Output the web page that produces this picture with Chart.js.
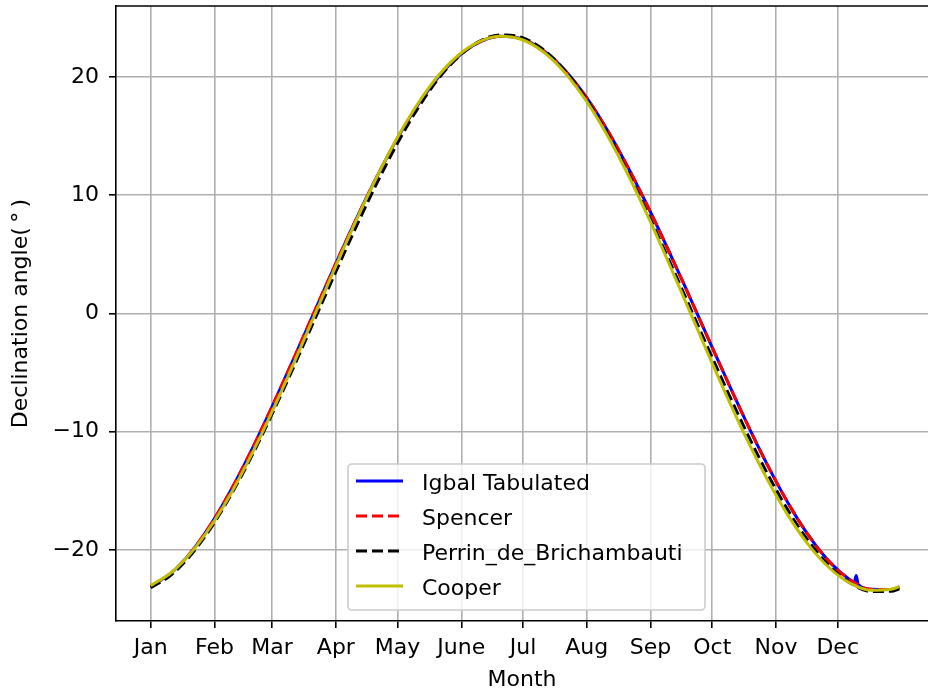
<!DOCTYPE html>
<html>
<head>
<meta charset="utf-8">
<script src="https://cdn.jsdelivr.net/npm/chart.js@4.4.1/dist/chart.umd.min.js"></script>
<style>
  html, body { margin: 0; padding: 0; background: #fff; }
  canvas { display: block; }
</style>
</head>
<body>
<canvas id="graphic" width="928" height="693"></canvas>
<script>
// day of year for the sampled declination values
const days = [1, 11, 21, 31, 41, 51, 61, 71, 81, 91, 101, 111, 121, 131, 141, 151, 161, 171, 181,
  191, 201, 211, 221, 231, 241, 251, 261, 271, 281, 291, 301, 311, 321, 331, 341, 351, 361, 365];

// month ticks on the x axis
const monthDays = [1, 32, 60, 91, 121, 152, 182, 213, 244, 274, 305, 335];
const monthLabels = ["Jan", "Feb", "Mar", "Apr", "May", "June", "Jul", "Aug", "Sep", "Oct", "Nov", "Dec"];

const yTicks = [-20, -10, 0, 10, 20];

// tabulated values have a few extra days around the glitch in december
const iqbalDays = [1, 11, 21, 31, 41, 51, 61, 71, 81, 91, 101, 111, 121, 131, 141, 151, 161, 171, 181,
  191, 201, 211, 221, 231, 241, 251, 261, 271, 281, 291, 301, 311, 321, 331, 341, 343, 344, 345, 351, 361, 365];
const iqbal = [-23.06, -21.93, -20.09, -17.61, -14.61, -11.20, -7.50, -3.62, 0.33, 4.24, 8.03, 11.58, 14.83,
  17.67, 20.02, 21.81, 22.96, 23.44, 23.24, 22.35, 20.82, 18.71, 16.09, 13.03, 9.64, 6.00, 2.19, -1.70,
  -5.57, -9.33, -12.86, -16.06, -18.81, -21.00, -22.52, -22.73, -22.15, -22.92, -23.32, -23.34, -23.13];

const spencer = [-23.06, -21.93, -20.09, -17.61, -14.61, -11.20, -7.50, -3.62, 0.33, 4.24, 8.03, 11.58, 14.83,
  17.67, 20.02, 21.81, 22.96, 23.44, 23.24, 22.35, 20.82, 18.71, 16.09, 13.03, 9.64, 6.00, 2.19, -1.70,
  -5.57, -9.33, -12.86, -16.06, -18.81, -21.00, -22.52, -23.32, -23.34, -23.13];

const perrin = [-23.19, -22.09, -20.31, -17.93, -15.04, -11.74, -8.13, -4.32, -0.39, 3.54, 7.39, 11.04, 14.41,
  17.39, 19.88, 21.78, 23.03, 23.56, 23.36, 22.43, 20.81, 18.58, 15.81, 12.60, 9.06, 5.29, 1.38, -2.56,
  -6.44, -10.15, -13.60, -16.69, -19.30, -21.37, -22.78, -23.50, -23.49, -23.27];

const cooper = [-23.01, -21.90, -20.14, -17.78, -14.90, -11.58, -7.92, -4.02, 0.00, 4.02, 7.92, 11.58, 14.90,
  17.78, 20.14, 21.90, 23.01, 23.45, 23.19, 22.24, 20.64, 18.42, 15.67, 12.45, 8.86, 5.01, 1.01, -3.02,
  -6.96, -10.69, -14.11, -17.11, -19.60, -21.52, -22.80, -23.40, -23.31, -23.09];

function points(xs, ys) {
  return xs.map((x, i) => ({ x: x, y: ys[i] }));
}

const FONT = { family: "'DejaVu Sans'", size: 22 };

// top frame line (chart.js only draws the axis borders)
const frame = {
  id: "frame",
  afterDatasetsDraw(chart) {
    const { ctx, chartArea } = chart;
    ctx.save();
    ctx.strokeStyle = "#000";
    ctx.lineWidth = 1.6;
    ctx.beginPath();
    ctx.moveTo(chartArea.left, chartArea.top);
    ctx.lineTo(chartArea.right, chartArea.top);
    ctx.stroke();
    ctx.restore();
  }
};

// legend box inside the plot, lower middle
const boxLegend = {
  id: "boxLegend",
  afterDraw(chart) {
    const ctx = chart.ctx;
    const bx = 348, by = 464, bw = 357, bh = 146;
    ctx.save();
    ctx.fillStyle = "rgba(255,255,255,0.8)";
    ctx.strokeStyle = "#cccccc";
    ctx.lineWidth = 1.6;
    ctx.beginPath();
    ctx.roundRect(bx, by, bw, bh, 4);
    ctx.fill();
    ctx.stroke();
    ctx.font = "22px 'DejaVu Sans'";
    ctx.textBaseline = "alphabetic";
    chart.data.datasets.forEach((ds, i) => {
      const ry = by + 17 + i * 35;
      ctx.strokeStyle = ds.borderColor;
      ctx.lineWidth = ds.borderWidth;
      ctx.setLineDash(ds.borderDash || []);
      ctx.beginPath();
      ctx.moveTo(bx + 8, ry);
      ctx.lineTo(bx + 55, ry);
      ctx.stroke();
      ctx.setLineDash([]);
      ctx.fillStyle = "#000";
      ctx.fillText(ds.label, bx + 74, ry + 9);
    });
    ctx.restore();
  }
};

const lineStyle = {
  fill: false,
  pointRadius: 0,
  borderWidth: 3,
  cubicInterpolationMode: "monotone"
};

var ctx = document.getElementById("graphic").getContext("2d");
var chart = new Chart(ctx, {
  type: "line",
  data: {
    datasets: [
      Object.assign({ label: "Igbal Tabulated", data: points(iqbalDays, iqbal), borderColor: "#0000ff", order: 3 }, lineStyle),
      Object.assign({ label: "Spencer", data: points(days, spencer), borderColor: "#ff0000", borderDash: [11, 5], order: 2 }, lineStyle),
      Object.assign({ label: "Perrin_de_Brichambauti", data: points(days, perrin), borderColor: "#000000", borderDash: [11, 5], order: 1 }, lineStyle),
      Object.assign({ label: "Cooper", data: points(days, cooper), borderColor: "#bfbf00", order: 0 }, lineStyle),
    ],
  },
  options: {
    responsive: false,
    animation: false,
    devicePixelRatio: 1,
    layout: { padding: { top: 6, right: 0, bottom: 0, left: 0 } },
    plugins: {
      legend: { display: false },
      tooltip: { enabled: false },
    },
    scales: {
      x: {
        type: "linear",
        min: -15.9,
        max: 378.9,
        afterBuildTicks: (scale) => { scale.ticks = monthDays.map(v => ({ value: v })); },
        afterFit: (scale) => {
          scale.height = 72;
          scale.paddingLeft = 0;
          scale.paddingRight = 0;
        },
        ticks: {
          autoSkip: false,
          maxRotation: 0,
          padding: 7,
          color: "#000",
          font: FONT,
          callback: (v) => monthLabels[monthDays.indexOf(v)],
        },
        grid: { color: "#b0b0b0", lineWidth: 1.6, tickLength: 7, tickColor: "#000", tickWidth: 1.6 },
        border: { color: "#000", width: 1.6 },
        title: { display: true, text: "Month", color: "#000", font: FONT, padding: { top: 0, bottom: 0 } },
      },
      y: {
        min: -26,
        max: 26,
        afterBuildTicks: (scale) => { scale.ticks = yTicks.map(v => ({ value: v })); },
        afterFit: (scale) => {
          scale.width = 116;
          scale.paddingTop = 0;
          scale.paddingBottom = 0;
        },
        ticks: {
          padding: 10,
          color: "#000",
          font: FONT,
          callback: (v) => (v < 0 ? "\u2212" + Math.abs(v) : String(v)),
        },
        grid: { color: "#b0b0b0", lineWidth: 1.6, tickLength: 7, tickColor: "#000", tickWidth: 1.6 },
        border: { color: "#000", width: 1.6 },
        title: { display: true, text: "Declination angle(\u2009\u00b0\u2009)", color: "#000", font: FONT, padding: { top: 8, bottom: 0 } },
      },
    },
  },
  plugins: [frame, boxLegend],
});
</script>
</body>
</html>
